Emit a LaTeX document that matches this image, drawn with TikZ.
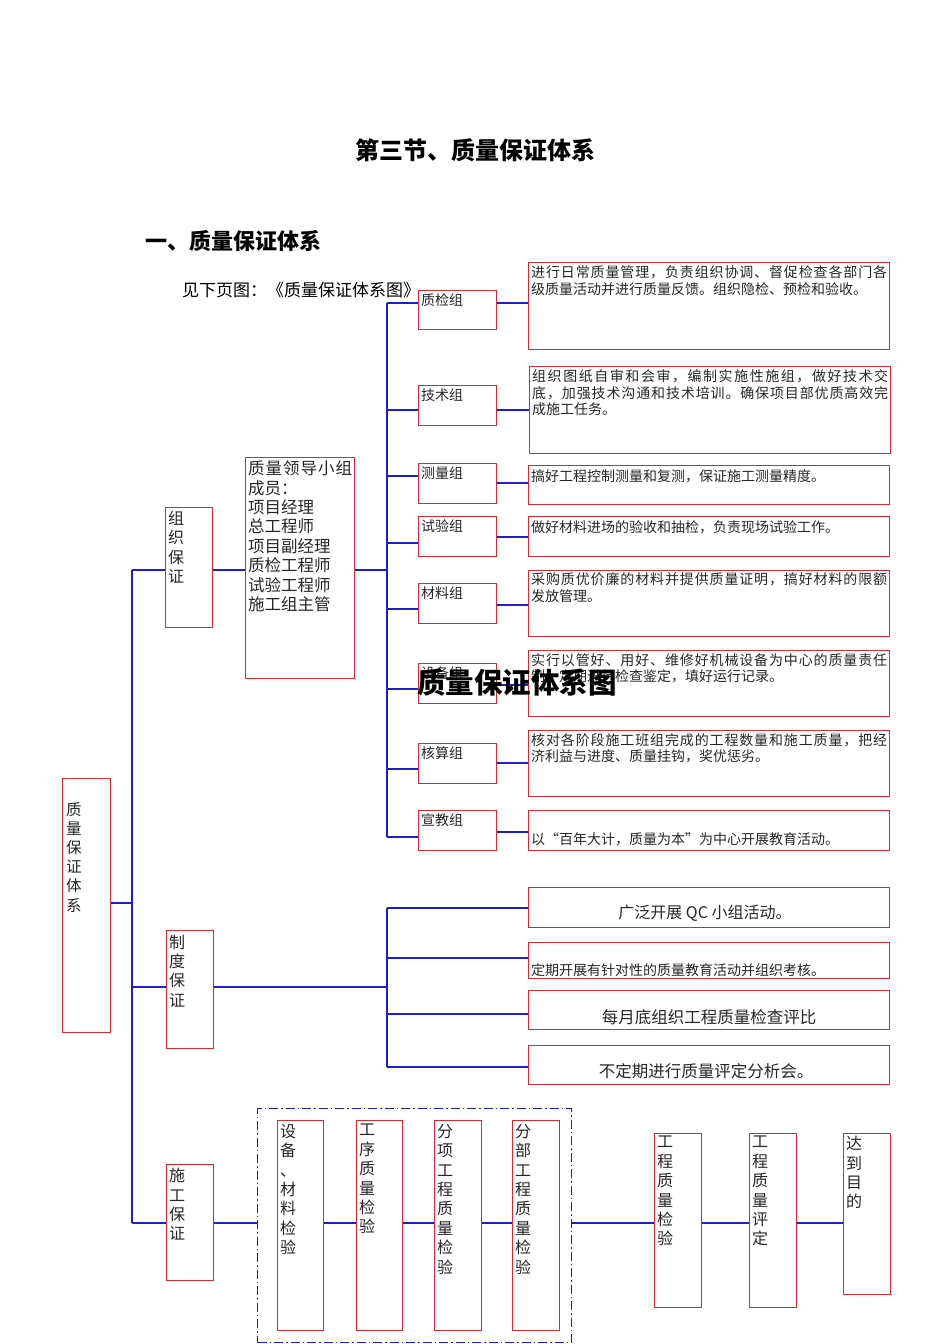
\documentclass[tikz,border=0pt]{standalone}
\usepackage{fontspec}
\setmainfont{Noto Sans CJK SC}
\definecolor{rboxc}{RGB}{218,40,48}
\definecolor{bline}{RGB}{30,30,205}
% spread a line of characters evenly over a given width
\def\sprd#1#2{\makebox[#1][s]{\sprdA#2\relax}}
\def\sprdA#1{#1\sprdB}
\def\sprdB#1{\ifx#1\relax\else\hfil#1\expandafter\sprdB\fi}
\begin{document}
\begin{tikzpicture}[x=1pt,y=-1pt,
  rbox/.style={draw=rboxc, line width=1.3pt, inner sep=0pt, anchor=north west},
  sz/.style 2 args={minimum width=#1pt, minimum height=#2pt},
  bl/.style={draw=bline, line width=1.3pt},
  txt/.style={inner sep=0pt, text=black!85, align=left},
  desc/.style={txt, anchor=north west, font=\fontsize{14}{16.7}\selectfont},
  lbl/.style={txt, anchor=west, font=\fontsize{14}{16.7}\selectfont},
  vtxt/.style={txt, anchor=north west, font=\fontsize{16}{19.4}\selectfont},
  big/.style={txt, font=\fontsize{16.5}{19.4}\selectfont}
]
\useasboundingbox (0,0) rectangle (950,1344);

% titles
\node[txt, text=black, font=\fontsize{24}{28}\selectfont\bfseries] (t1) at (475,150) {第三节、质量保证体系};
\node[txt, text=black, anchor=west, font=\fontsize{22}{26}\selectfont\bfseries] (t2) at (145,241) {一、质量保证体系};
\node[txt, text=black, anchor=west, font=\fontsize{17}{20}\selectfont] (t3) at (182,290) {见下页图：《质量保证体系图》};

% group boxes
\node[rbox, sz={78}{39}] (qj) at (418,290) {};
\node[rbox, sz={78}{40}] (js) at (418,385) {};
\node[rbox, sz={78}{40}] (cl) at (418,463) {};
\node[rbox, sz={78}{40}] (sy) at (418,516) {};
\node[rbox, sz={78}{40}] (cw) at (418,583) {};
\node[rbox, sz={78}{40}] (sb) at (418,663) {};
\node[rbox, sz={78}{40}] (hs) at (418,743) {};
\node[rbox, sz={78}{40}] (xj) at (418,810) {};

% description boxes
\node[rbox, sz={361}{87}] (d1) at (528,262) {};
\node[rbox, sz={361}{87}] (d2) at (529,366) {};
\node[rbox, sz={361}{39}] (d3) at (528,465) {};
\node[rbox, sz={361}{40}] (d4) at (528,516) {};
\node[rbox, sz={361}{66}] (d5) at (528,570) {};
\node[rbox, sz={361}{66}] (d6) at (528,650) {};
\node[rbox, sz={361}{66}] (d7) at (528,730) {};
\node[rbox, sz={361}{40}] (d8) at (528,810) {};

% left column boxes
\node[rbox, sz={109}{221}] (leader) at (245,457) {};
\node[rbox, sz={47}{120}] (zz) at (165,507) {};
\node[rbox, sz={48}{254}] (root) at (62,778) {};
\node[rbox, sz={47}{118}] (zd) at (166,930) {};
\node[rbox, sz={47}{116}] (sg) at (166,1164) {};

% system boxes
\node[rbox, sz={361}{40}] (q1) at (528,887) {};
\node[rbox, sz={361}{36}] (q2) at (528,942) {};
\node[rbox, sz={361}{39}] (q3) at (528,990) {};
\node[rbox, sz={361}{39}] (q4) at (528,1045) {};

% construction chain
\node[draw=bline, line width=1.3pt, dash pattern=on 9pt off 3pt on 1.5pt off 3pt, inner sep=0pt, anchor=north west, sz={314}{234}] (dash) at (257,1108) {};
\node[rbox, sz={46}{210}] (i1) at (277,1120) {};
\node[rbox, sz={46}{210}] (i2) at (356,1120) {};
\node[rbox, sz={47}{210}] (i3) at (434,1120) {};
\node[rbox, sz={47}{210}] (i4) at (512,1120) {};
\node[rbox, sz={47}{174}] (e1) at (654,1133) {};
\node[rbox, sz={47}{174}] (e2) at (749,1133) {};
\node[rbox, sz={47}{161}] (e3) at (843,1133) {};

% ---------- connectors ----------
\coordinate (trunk) at (132,570);
\coordinate (bus) at (387,303);
\draw[bl] (trunk) -- (trunk |- 0,1223);
\draw[bl] (root.east |- 0,903) -- (trunk |- 0,903);
\draw[bl] (trunk) -- (zz.west |- trunk);
\draw[bl] (zz.east |- 0,570) -- (leader.west |- 0,570);
\draw[bl] (leader.east |- 0,570) -- (bus |- 0,570);
\draw[bl] (bus) -- (bus |- 0,837);
% stubs bus -> groups
\draw[bl] (bus) -- (qj.west |- bus);
\draw[bl] (bus |- 0,410) -- (js.west |- 0,410);
\draw[bl] (bus |- 0,476) -- (cl.west |- 0,476);
\draw[bl] (bus |- 0,543) -- (sy.west |- 0,543);
\draw[bl] (bus |- 0,609) -- (cw.west |- 0,609);
\draw[bl] (bus |- 0,689) -- (sb.west |- 0,689);
\draw[bl] (bus |- 0,769) -- (hs.west |- 0,769);
\draw[bl] (bus |- 0,837) -- (xj.west |- 0,837);
% groups -> descriptions
\draw[bl] (qj.east |- 0,303) -- (d1.west |- 0,303);
\draw[bl] (js.east |- 0,410) -- (d2.west |- 0,410);
\draw[bl] (cl.east |- 0,483) -- (d3.west |- 0,483);
\draw[bl] (sy.east |- 0,537) -- (d4.west |- 0,537);
\draw[bl] (cw.east |- 0,605) -- (d5.west |- 0,605);
\draw[bl] (sb.east |- 0,685) -- (d6.west |- 0,685);
\draw[bl] (hs.east |- 0,763) -- (d7.west |- 0,763);
\draw[bl] (xj.east |- 0,832) -- (d8.west |- 0,832);
% system branch
\draw[bl] (trunk |- 0,987) -- (zd.west |- 0,987);
\draw[bl] (zd.east |- 0,987) -- (bus |- 0,987);
\draw[bl] (bus |- 0,908) -- (bus |- 0,1067);
\draw[bl] (bus |- 0,908) -- (q1.west |- 0,908);
\draw[bl] (bus |- 0,958) -- (q2.west |- 0,958);
\draw[bl] (bus |- 0,1014) -- (q3.west |- 0,1014);
\draw[bl] (bus |- 0,1067) -- (q4.west |- 0,1067);
% construction chain
\draw[bl] (trunk |- 0,1223) -- (sg.west |- 0,1223);
\draw[bl] (sg.east |- 0,1223) -- (dash.west |- 0,1223);
\draw[bl] (i1.east |- 0,1223) -- (i2.west |- 0,1223);
\draw[bl] (i2.east |- 0,1223) -- (i3.west |- 0,1223);
\draw[bl] (i3.east |- 0,1223) -- (i4.west |- 0,1223);
\draw[bl] (dash.east |- 0,1223) -- (e1.west |- 0,1223);
\draw[bl] (e1.east |- 0,1223) -- (e2.west |- 0,1223);
\draw[bl] (e2.east |- 0,1223) -- (e3.west |- 0,1223);

% ---------- texts ----------
\node[lbl] (lqj) at ([shift={(3,10)}]qj.north west) {质检组};
\node[lbl] (ljs) at ([shift={(3,10)}]js.north west) {技术组};
\node[lbl] (lcl) at ([shift={(3,10)}]cl.north west) {测量组};
\node[lbl] (lsy) at ([shift={(3,10)}]sy.north west) {试验组};
\node[lbl] (lcw) at ([shift={(3,10)}]cw.north west) {材料组};
\node[lbl] (lsb) at ([shift={(3,10)}]sb.north west) {设备组};
\node[lbl] (lhs) at ([shift={(3,10)}]hs.north west) {核算组};
\node[lbl] (lxj) at ([shift={(3,10)}]xj.north west) {宣教组};

\node[desc] (td1) at ([shift={(3,3.5)}]d1.north west) {\sprd{356pt}{进行日常质量管理，负责组织协调、督促检查各部门各}\\级质量活动并进行质量反馈。组织隐检、预检和验收。};
\node[desc] (td2) at ([shift={(3,3.5)}]d2.north west) {\sprd{356pt}{组织图纸自审和会审，编制实施性施组，做好技术交}\\\sprd{356pt}{底，加强技术沟通和技术培训。确保项目部优质高效完}\\成施工任务。};
\node[desc] (td3) at ([shift={(3,4)}]d3.north west) {搞好工程控制测量和复测，保证施工测量精度。};
\node[desc] (td4) at ([shift={(3,4)}]d4.north west) {做好材料进场的验收和抽检，负责现场试验工作。};
\node[desc] (td5) at ([shift={(3,2.5)}]d5.north west) {\sprd{356pt}{采购质优价廉的材料并提供质量证明，搞好材料的限额}\\发放管理。};
\node[desc] (td6) at ([shift={(3,3)}]d6.north west) {\sprd{356pt}{实行以管好、用好、维修好机械设备为中心的质量责任}\\制，定期进行检查鉴定，填好运行记录。};
\node[desc] (td7) at ([shift={(3,3)}]d7.north west) {\sprd{356pt}{核对各阶段施工班组完成的工程数量和施工质量，把经}\\济利益与进度、质量挂钩，奖优惩劣。};
\node[lbl] (td8) at ([shift={(3,29)}]d8.north west) {以“百年大计，质量为本”为中心开展教育活动。};

\node[big, anchor=north west] (tl) at ([shift={(3,3.6)}]leader.north west) {\sprd{104pt}{质量领导小组}\\成员：\\项目经理\\总工程师\\项目副经理\\质检工程师\\试验工程师\\施工组主管};
\node[vtxt] (tzz) at ([shift={(3,3.8)}]zz.north west) {组\\织\\保\\证};
\node[vtxt, font=\fontsize{15.5}{19.2}\selectfont] (troot) at ([shift={(4,24)}]root.north west) {质\\量\\保\\证\\体\\系};
\node[vtxt] (tzd) at ([shift={(3,4.5)}]zd.north west) {制\\度\\保\\证};
\node[vtxt] (tsg) at ([shift={(3,4)}]sg.north west) {施\\工\\保\\证};

\node[txt, font=\fontsize{16}{19}\selectfont] (tq1) at (705,913) {广泛开展 QC 小组活动。};
\node[lbl, font=\fontsize{14}{16}\selectfont] (tq2) at (531,970) {定期开展有针对性的质量教育活动并组织考核。};
\node[txt, font=\fontsize{16.5}{19}\selectfont] (tq3) at (709,1017) {每月底组织工程质量检查评比};
\node[txt, font=\fontsize{16.5}{19}\selectfont] (tq4) at (706,1071) {不定期进行质量评定分析会。};

\node[vtxt] (ti1) at ([shift={(3,4)}]i1.north west) {设\\备\\、\\材\\料\\检\\验};
\node[vtxt] (ti2) at ([shift={(3,4)}]i2.north west) {工\\序\\质\\量\\检\\验};
\node[vtxt] (ti3) at ([shift={(3,4)}]i3.north west) {分\\项\\工\\程\\质\\量\\检\\验};
\node[vtxt] (ti4) at ([shift={(3,4)}]i4.north west) {分\\部\\工\\程\\质\\量\\检\\验};
\node[vtxt] (te1) at ([shift={(3,3)}]e1.north west) {工\\程\\质\\量\\检\\验};
\node[vtxt] (te2) at ([shift={(3,3)}]e2.north west) {工\\程\\质\\量\\评\\定};
\node[vtxt] (te3) at ([shift={(3,3)}]e3.north west) {达\\到\\目\\的};

% overlaid figure title
\node[txt, text=black, anchor=west, font=\fontsize{28.5}{32}\selectfont\bfseries] (t4) at (417,683) {质量保证体系图};
\end{tikzpicture}
\end{document}
